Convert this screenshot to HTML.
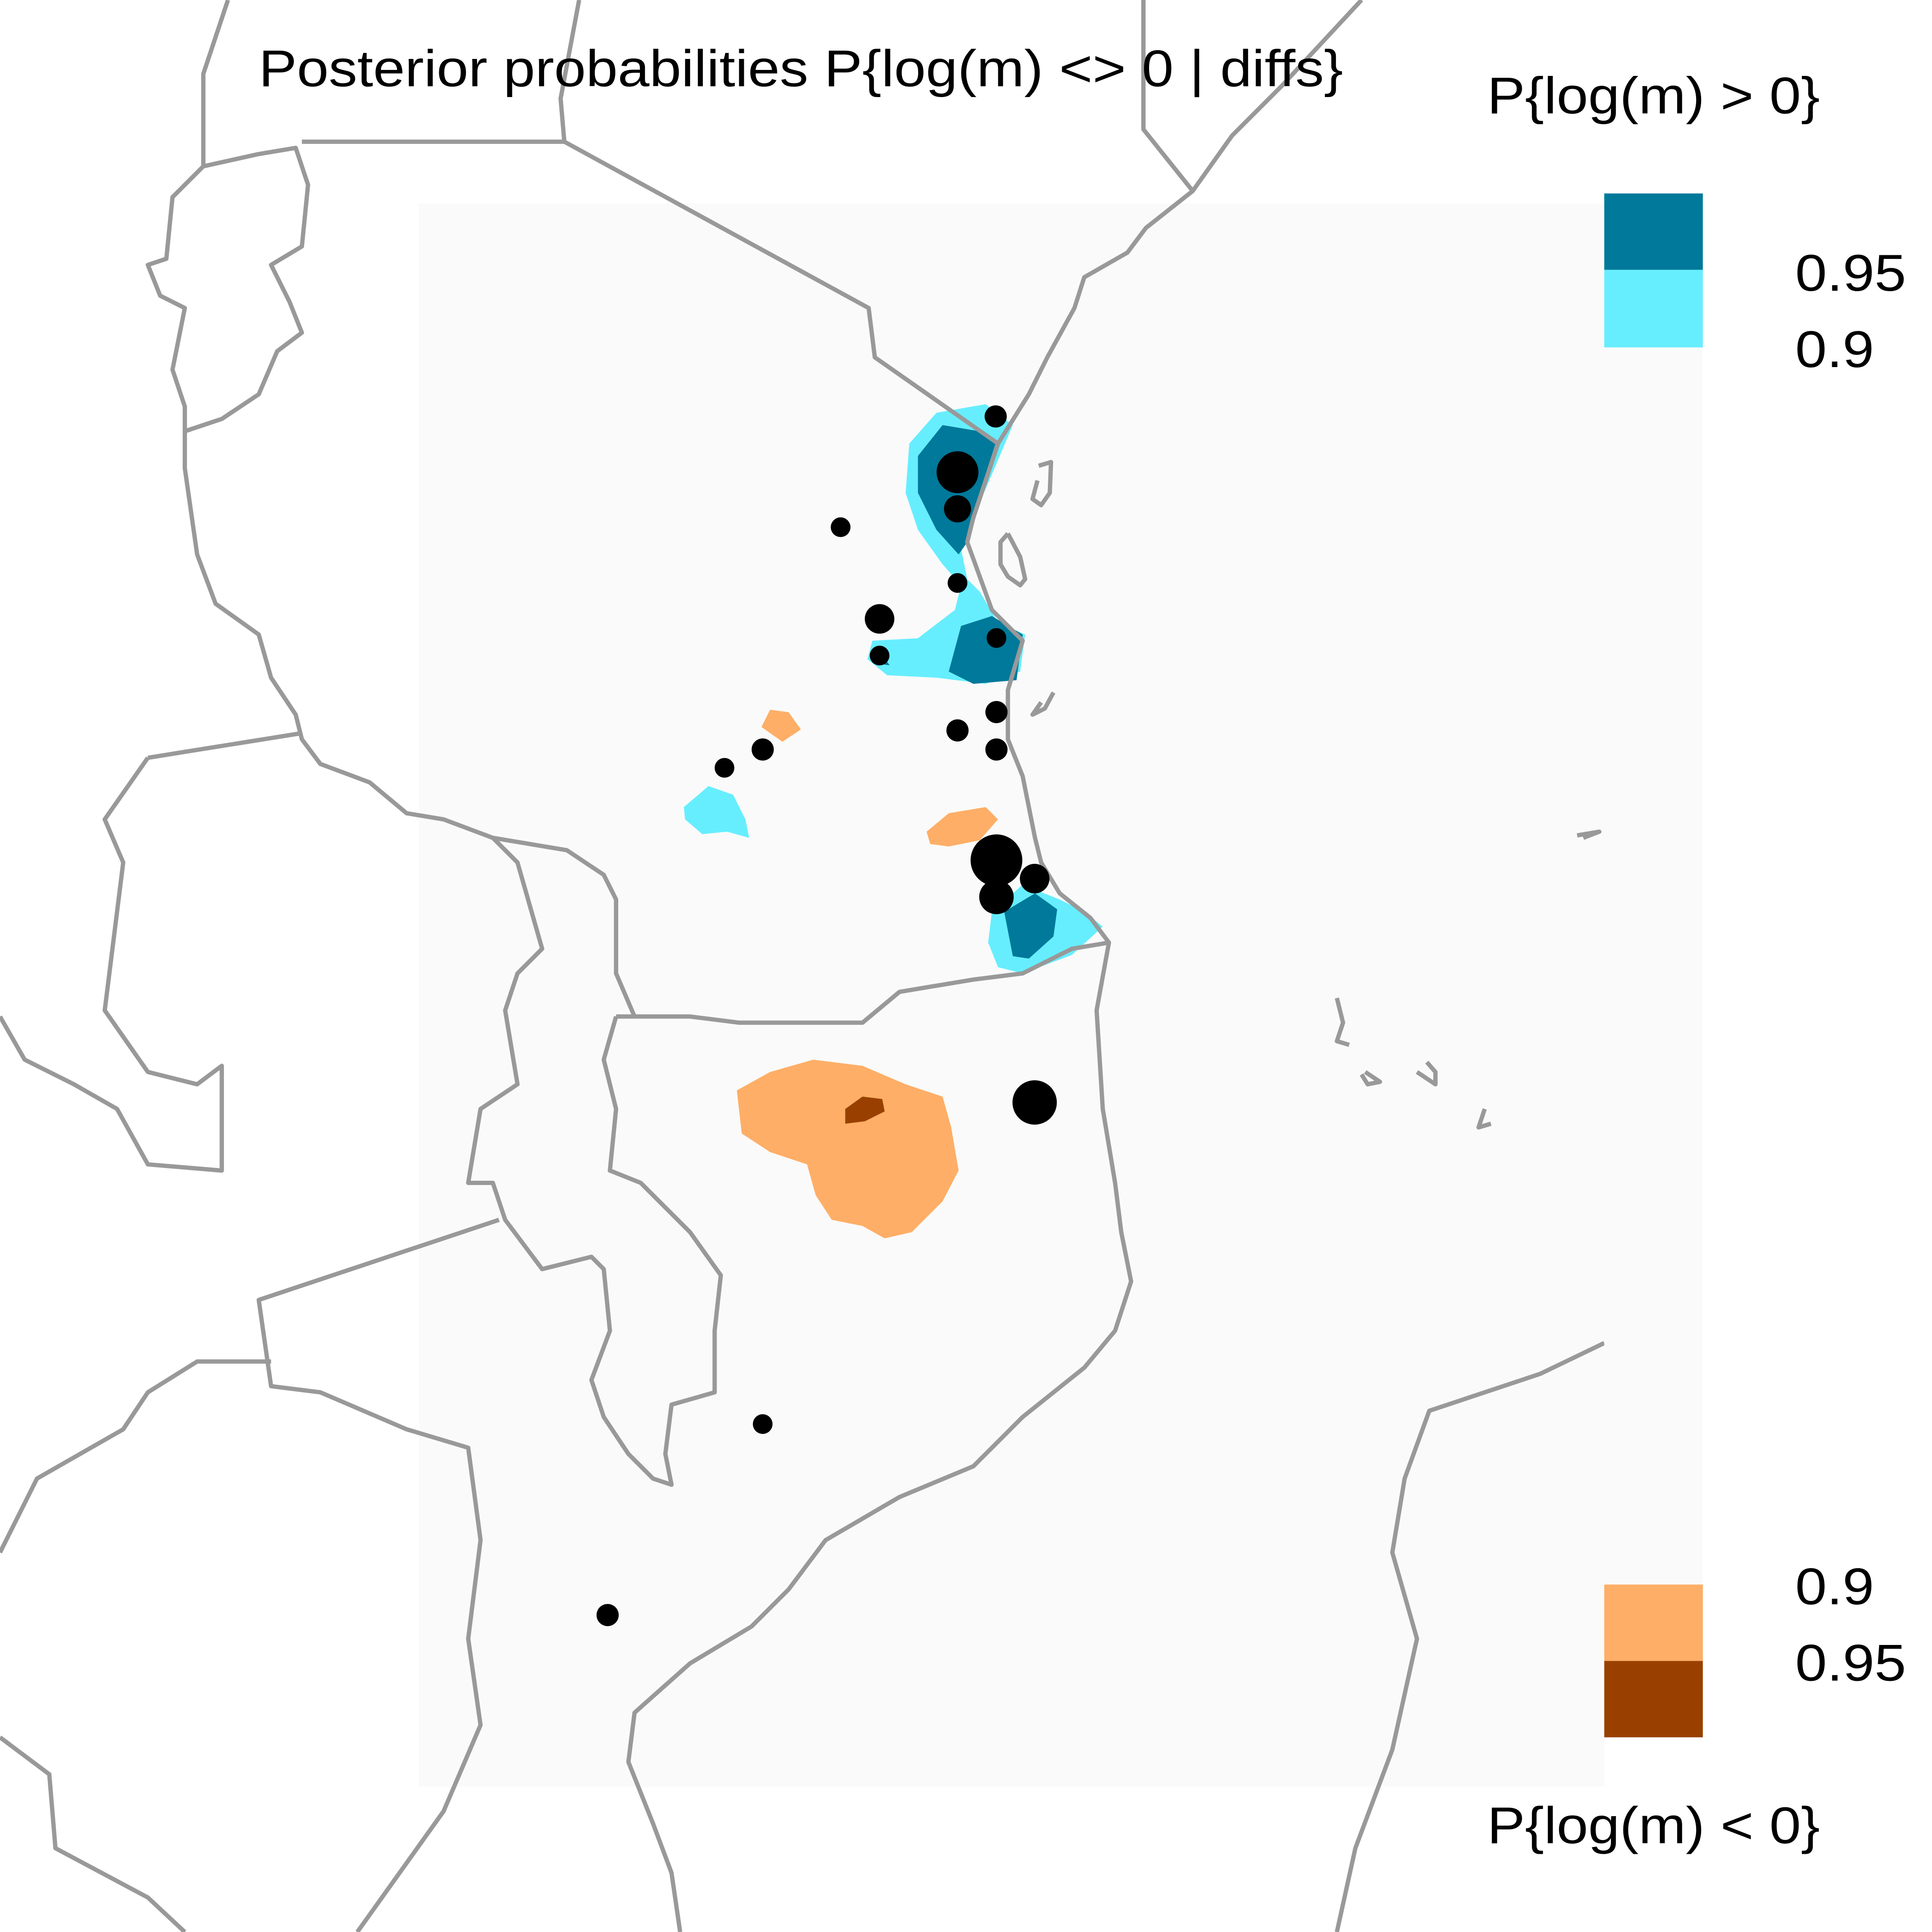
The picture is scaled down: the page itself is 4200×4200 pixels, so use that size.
<!DOCTYPE html>
<html><head><meta charset="utf-8"><style>
html,body{margin:0;padding:0;background:#fff}
svg{display:block}
text{font-family:"Liberation Sans",sans-serif;fill:#000}
</style></head><body>
<svg id="chart" width="4200" height="4200" viewBox="0 0 1568 1568" xmlns="http://www.w3.org/2000/svg">
<rect x="0" y="0" width="1568" height="1568" fill="#fff"/>
<rect x="340" y="165" width="962" height="1285" fill="#FAFAFA"/>
<g id="contours">
<path fill="#66EEFF" d="M760,335 L800,328 L822,345 L808,378 L790,420 L780,445 L785,470 L795,480 L810,505 L832,515 L828,545 L800,555 L760,550 L720,548 L704,535 L708,520 L745,518 L775,495 L780,475 L765,458 L745,430 L735,400 L738,360 Z"/>
<path fill="#00799A" d="M765,345 L795,350 L808,360 L795,400 L785,440 L778,450 L760,430 L745,400 L745,370 Z M780,508 L805,500 L830,515 L825,552 L790,555 L770,545 Z M715,530 L722,540 L708,538 Z"/>
<path fill="#66EEFF" d="M805,740 L830,718 L860,730 L880,740 L895,752 L870,775 L830,790 L810,785 L802,765 Z"/>
<path fill="#00799A" d="M815,740 L840,725 L858,738 L855,760 L835,778 L822,776 Z"/>
<path fill="#66EEFF" d="M555,655 L575,638 L595,645 L605,665 L608,680 L590,675 L570,677 L556,665 Z"/>
<path fill="#FEAE66" d="M618,590 L625,576 L640,578 L650,592 L635,602 Z"/>
<path fill="#FEAE66" d="M752,675 L770,660 L800,655 L810,665 L795,682 L770,687 L755,685 Z"/>
<path fill="#FEAE66" d="M598,885 L625,870 L660,860 L700,865 L735,880 L765,890 L772,915 L778,950 L765,975 L740,1000 L718,1005 L700,995 L675,990 L662,970 L655,945 L625,935 L602,920 Z"/>
<path fill="#994000" d="M686,900 L700,890 L716,892 L718,902 L702,910 L686,912 Z"/>
</g>
<g id="borders" fill="none" stroke="#999" stroke-width="3.5" stroke-linejoin="round">
<polyline points="1105,0 1040,70 1000,110 968,155 930,185 915,205 880,225 872,250 850,290 835,320 810,360 800,390 790,420 785,440 805,495 830,520 818,560 818,600 830,630 840,680 845,700 860,725 885,745 900,765 890,820 895,900 905,960 910,1000 918,1040 905,1080 880,1110 830,1150 790,1190 730,1215 670,1250 640,1290 610,1320 560,1350 515,1390 510,1430 530,1480 545,1520 552,1568"/>
<polyline points="928,0 928,105 968,155"/>
<polyline points="458,115 705,250 710,290 810,360"/>
<polyline points="245,115 458,115 455,80 470,0"/>
<polyline points="185,0 165,60 165,135 210,125 240,120 250,150 245,200 220,215 235,245 245,270 225,285 210,320 180,340 150,350"/>
<polyline points="165,135 140,160 135,210 120,215 130,240 150,250 140,300 150,330 150,350"/>
<polyline points="150,350 150,380 160,450 175,490 210,515 220,550 240,580 245,600 260,620 300,635 330,660 360,665 400,680 460,690 490,710 500,730 500,790 515,825"/>
<polyline points="500,825 560,825 600,830 700,830 730,805 790,795 830,790 870,770 900,765"/>
<polyline points="500,825 490,860 500,900 495,950 520,960 560,1000 585,1035 580,1080 580,1130 545,1140 540,1180 545,1205 530,1200 510,1180 490,1150 480,1120 495,1080 490,1030 480,1020 440,1030 410,990 400,960 380,960 390,900 420,880 410,820 420,790 440,770 420,700 400,680"/>
<polyline points="120,615 245,595"/>
<polyline points="120,615 85,665 100,700 85,820 120,870 160,880 180,865 180,950 120,945 95,900 60,880 20,860 0,825"/>
<polyline points="405,990 300,1025 210,1055 220,1125 260,1130 330,1160 380,1175 390,1250 380,1330 390,1400 360,1470 290,1568"/>
<polyline points="220,1105 160,1105 120,1130 100,1160 30,1200 0,1260"/>
<polyline points="0,1410 40,1440 45,1500 120,1540 150,1568"/>
<polyline points="1302,1090 1250,1115 1160,1145 1140,1200 1130,1260 1150,1330 1130,1420 1100,1500 1085,1568"/>
<polyline points="843,378 853,375 852,400 845,410 838,405 842,390 Z"/>
<polyline points="818,433 828,452 832,470 828,475 818,468 812,458 812,440 818,433"/>
<polyline points="855,562 848,575 838,580 845,570"/>
<polyline points="1085,810 1090,830 1085,845 1095,848"/>
<polyline points="1108,870 1120,878 1110,880 1105,872"/>
<polyline points="1158,862 1165,870 1165,880 1150,870"/>
<polyline points="1205,900 1200,915 1210,912"/>
<polyline points="1280,678 1298,675 1285,680"/>
</g>
<g id="points"></g>
<text x="210" y="70" font-size="42" textLength="880" lengthAdjust="spacingAndGlyphs">Posterior probabilities P{log(m) &lt;&gt; 0 | diffs}</text>
<g>
<text x="1207" y="92" font-size="42" textLength="270" lengthAdjust="spacingAndGlyphs">P{log(m) &gt; 0}</text>
<rect x="1302" y="157" width="80" height="62" fill="#00799A"/>
<rect x="1302" y="219" width="80" height="63" fill="#66EEFF"/>
<rect x="1302" y="282" width="80" height="1004" fill="#FAFAFA"/>
<rect x="1302" y="1286" width="80" height="62" fill="#FEAE66"/>
<rect x="1302" y="1348" width="80" height="62" fill="#994000"/>
<text x="1457" y="236" font-size="42" textLength="90" lengthAdjust="spacingAndGlyphs">0.95</text>
<text x="1457" y="298" font-size="42" textLength="64" lengthAdjust="spacingAndGlyphs">0.9</text>
<text x="1457" y="1302" font-size="42" textLength="64" lengthAdjust="spacingAndGlyphs">0.9</text>
<text x="1457" y="1364" font-size="42" textLength="90" lengthAdjust="spacingAndGlyphs">0.95</text>
<text x="1207" y="1496" font-size="42" textLength="270" lengthAdjust="spacingAndGlyphs">P{log(m) &lt; 0}</text>
</g>
</svg>
<script>
const pointLon = [38.55, 38.05, 38.05, 36.52, 38.05, 37.03, 38.56, 37.03, 38.56, 38.05, 38.56, 35.5, 35.0, 38.56, 39.06, 38.56, 39.06, 35.5, 33.47];
const pointLat = [-3.79, -4.52, -5.0, -5.24, -5.97, -6.44, -6.69, -6.92, -7.66, -7.9, -8.15, -8.15, -8.39, -9.6, -9.84, -10.08, -12.77, -16.98, -19.48];
const pointSize = [9, 17, 11, 8, 8, 12, 8, 8, 9, 9, 9, 9, 8, 21, 12, 14, 18, 8, 9];
function xScale(lon){ return 340 + (lon - 31) * 62; }
function yScale(lat){ return 165 + (-1 - lat) * 62; }
const g = document.getElementById('points');
for (let i = 0; i < pointLon.length; i++) {
  const c = document.createElementNS('http://www.w3.org/2000/svg', 'circle');
  c.setAttribute('cx', xScale(pointLon[i]));
  c.setAttribute('cy', yScale(pointLat[i]));
  c.setAttribute('r', pointSize[i]);
  c.setAttribute('fill', '#000');
  
  
  g.appendChild(c);
}
</script>
</body></html>
